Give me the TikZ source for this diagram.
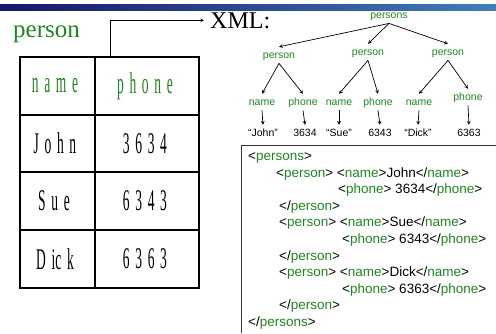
\documentclass[tikz,border=0pt]{standalone}
\usepackage{fontspec}
\setmainfont{Liberation Serif}
\setsansfont{Liberation Sans}
\usepackage{xcolor}
\usepackage{tikz}

\definecolor{tagc}{RGB}{30,135,30}
\definecolor{barL}{RGB}{22,22,105}
\definecolor{barR}{RGB}{65,125,185}
\newcommand{\cond}[1]{\scalebox{0.45}[1]{\spaceskip=0.42em\relax #1}}
\newcommand{\otag}[1]{<\textcolor{tagc}{#1}>}
\newcommand{\ctag}[1]{</\textcolor{tagc}{#1}>}

\begin{document}
\begin{tikzpicture}[>=stealth, x=1pt, y=-1pt,
    tag/.style={font=\sffamily\fontsize{10.5}{12}\selectfont, text=tagc, inner sep=3pt, text height=8pt, text depth=2.2pt, anchor=base},
    val/.style={tag, text=black},
    cell/.style={font=\fontsize{30}{32}\selectfont, inner sep=0pt},
    xml/.style={font=\sffamily\fontsize{13.5}{16}\selectfont, anchor=base west, inner sep=0pt},
    link/.style={->, line width=0.7pt}]
    \useasboundingbox (0,0) rectangle (496,333);
    \shade[left color=barL, right color=barR] (0,4) rectangle (496,10);

    % relation table
    \node[font=\fontsize{25}{28}\selectfont, text=tagc, anchor=base west, inner sep=0pt] (rel) at (13,37) {person};
    \draw[line width=1.5pt] (95,57) -- (95,288);
    \foreach \y in {115,172,230}
      \draw[line width=1.5pt] (20,\y) -- (199,\y);
    \draw[line width=2.5pt] (20,57) rectangle (199,288);
    \node[cell, text=tagc] (hname) at (55,86) {\cond{n a m e}};
    \node[cell, text=tagc] (hphone) at (145,86) {\cond{p h o n e}};
    \node[cell] (r1a) at (55,143.5) {\cond{J o h n}};
    \node[cell] (r1b) at (145,143.5) {\cond{3 6 3 4}};
    \node[cell] (r2a) at (54,201) {\cond{S u e}};
    \node[cell] (r2b) at (145,201) {\cond{6 3 4 3}};
    \node[cell] (r3a) at (55,259) {\cond{D ic k}};
    \node[cell] (r3b) at (145,259) {\cond{6 3 6 3}};

    \coordinate (tabtop) at (110,57);
    \node[font=\fontsize{24}{26}\selectfont, anchor=base west, inner sep=0pt] (xml) at (210,28) {XML:};
    \draw[->, line width=0.6pt] (tabtop) |- ([xshift=-6pt]xml.west);

    % tree
    \node[tag] (root) at (389,18) {persons};
    \node[tag] (p1) at (279,58) {person};
    \node[tag] (p2) at (368,55) {person};
    \node[tag] (p3) at (448,55) {person};
    \node[tag] (n1) at (262,105) {name};
    \node[tag] (f1) at (303,105) {phone};
    \node[tag] (n2) at (339,105) {name};
    \node[tag] (f2) at (378,105) {phone};
    \node[tag] (n3) at (419,105) {name};
    \node[tag] (f3) at (468,100) {phone};
    \node[val] (v1) at (263,136) {“John”};
    \node[val] (v2) at (305,136) {3634};
    \node[val] (v3) at (339,136) {“Sue”};
    \node[val] (v4) at (380,136) {6343};
    \node[val] (v5) at (418,136) {“Dick”};
    \node[val] (v6) at (469,136) {6363};
    \foreach \a/\b in {root/p1, root/p2, root/p3, p1/n1, p1/f1, p2/n2, p2/f2, p3/n3, p3/f3, n1/v1, f1/v2, n2/v3, f2/v4, n3/v5, f3/v6}
      \draw[link] (\a.south) -- (\b.north);

    % xml text
    \draw[line width=1pt, black!80] (496,145) -- (241,145) -- (241,333);
    \node[xml] (x1) at (248,160.5) {\otag{persons}};
    \node[xml] (x2) at (276,177.1) {\otag{person} \otag{name}John\ctag{name}};
    \node[xml] (x3) at (338,193.7) {\otag{phone} 3634\ctag{phone}};
    \node[xml] (x4) at (279,210.3) {\ctag{person}};
    \node[xml] (x5) at (279,226.9) {\otag{person} \otag{name}Sue\ctag{name}};
    \node[xml] (x6) at (342,243.5) {\otag{phone} 6343\ctag{phone}};
    \node[xml] (x7) at (279,260.1) {\ctag{person}};
    \node[xml] (x8) at (279,276.7) {\otag{person} \otag{name}Dick\ctag{name}};
    \node[xml] (x9) at (342,293.3) {\otag{phone} 6363\ctag{phone}};
    \node[xml] (x10) at (279,309.9) {\ctag{person}};
    \node[xml] (x11) at (248,326.5) {\ctag{persons}};
\end{tikzpicture}
\end{document}
